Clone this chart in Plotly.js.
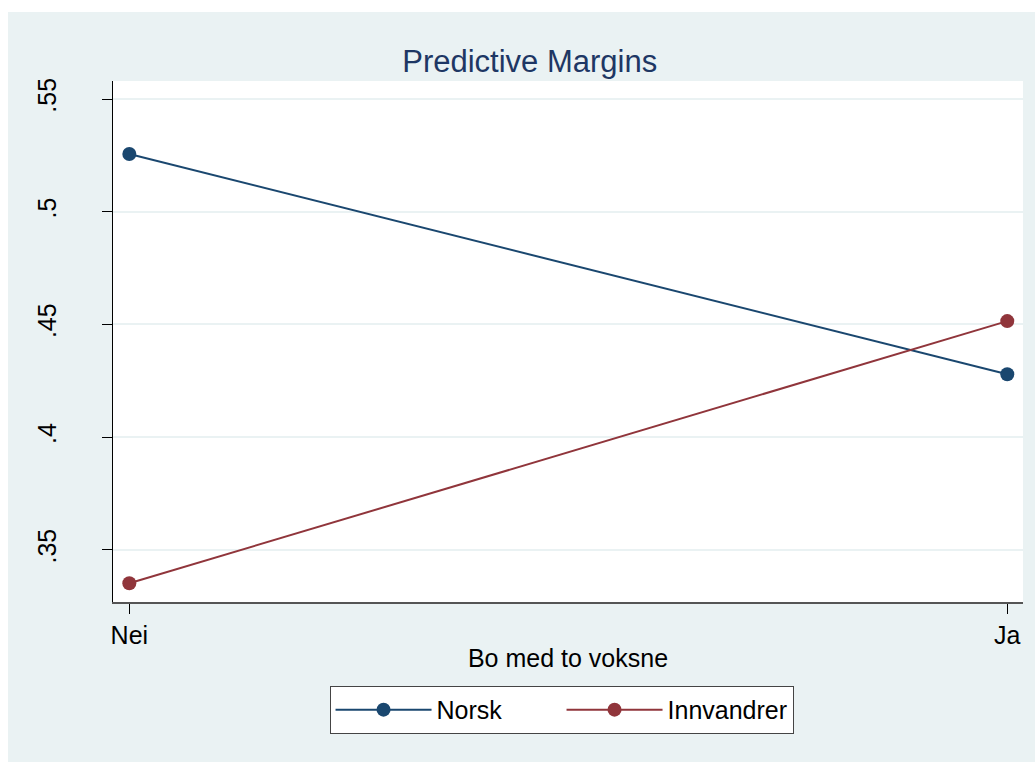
<!DOCTYPE html>
<html>
<head>
<meta charset="utf-8">
<script src="https://cdn.plot.ly/plotly-3.0.1.min.js"></script>
<style>
html, body { margin:0; padding:0; background:#ffffff; }
#chart { position:absolute; left:8px; top:12px; width:1027px; height:750px; }
</style>
</head>
<body>
<div id="chart"></div>
<script>
const categories = ['Nei', 'Ja'];
const norsk = [0.5256, 0.4279];
const innvandrer = [0.3352, 0.4515];
const yTickVals = [0.35, 0.4, 0.45, 0.5, 0.55];
const yTickText = ['.35', '.4', '.45', '.5', '.55'];
const seriesNames = ['Norsk', 'Innvandrer'];

const FONT = 'Liberation Sans, Arial, sans-serif';
const traces = [
  { x: categories, y: norsk, name: seriesNames[0], type: 'scatter', mode: 'lines+markers',
    line: { color: '#1a476f', width: 2 }, marker: { color: '#1a476f', size: 14, symbol: 'circle' } },
  { x: categories, y: innvandrer, name: seriesNames[1], type: 'scatter', mode: 'lines+markers',
    line: { color: '#90353b', width: 2 }, marker: { color: '#90353b', size: 14, symbol: 'circle' } }
];

const layout = {
  width: 1027, height: 750,
  paper_bgcolor: '#eaf2f3', plot_bgcolor: '#ffffff',
  margin: { l: 105, r: 12, t: 69, b: 160 },
  font: { family: FONT, size: 25, color: '#000000' },
  title: { text: 'Predictive Margins', font: { family: FONT, size: 31, color: '#1e3764' },
           xref: 'container', x: 0.508, xanchor: 'center', yref: 'container', y: 0.935, yanchor: 'middle' },
  xaxis: {
    type: 'category', range: [-0.0186, 1.0179],
    showgrid: false, zeroline: false,
    showline: true, linecolor: '#555555', linewidth: 2,
    ticks: 'outside', ticklen: 10, tickcolor: '#000000', tickwidth: 1,
    tickfont: { size: 25 },
    title: { text: 'Bo med to voksne', font: { size: 25 }, standoff: 1 },
    automargin: false
  },
  yaxis: {
    range: [0.3269, 0.558],
    tickvals: yTickVals, ticktext: yTickText, tickangle: -90,
    showgrid: true, gridcolor: '#eaf2f3', gridwidth: 2, zeroline: false,
    showline: true, linecolor: '#000000', linewidth: 1,
    ticks: 'outside', ticklen: 10, tickcolor: '#000000', tickwidth: 1,
    tickfont: { size: 25 }, ticklabelstandoff: 36,
    automargin: false
  },
  showlegend: true,
  legend: {
    orientation: 'h', x: 0.4929, xanchor: 'center', y: -0.161, yanchor: 'top',
    bgcolor: '#ffffff', bordercolor: '#444444', borderwidth: 1,
    font: { size: 25 }, itemwidth: 96, entrywidth: 120, traceorder: 'normal'
  }
};

Plotly.newPlot('chart', traces, layout, { displayModeBar: false, staticPlot: true });
</script>
</body>
</html>
